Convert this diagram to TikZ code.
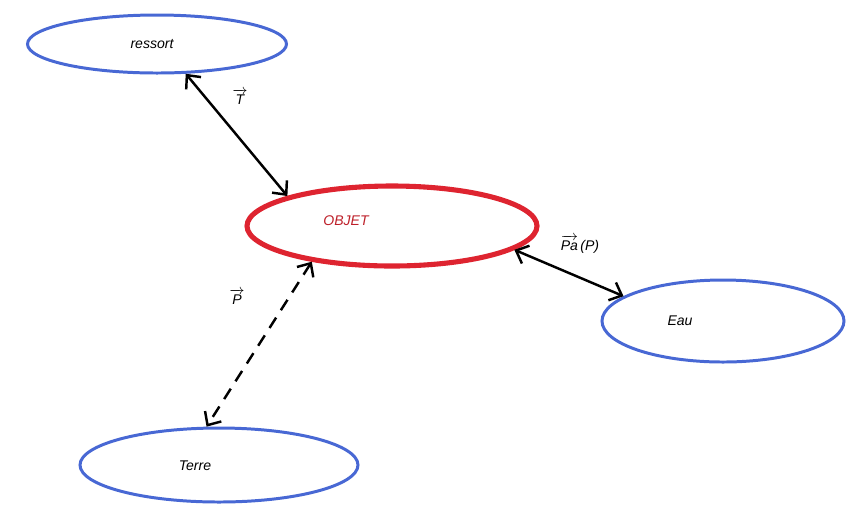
\documentclass[tikz,border=0pt]{standalone}
\usepackage{fontspec}
\setmainfont{Liberation Sans}
\usepackage{amsmath}
\usepackage{xcolor}
\usetikzlibrary{shapes.geometric, arrows.meta}

\definecolor{sysblue}{RGB}{72,104,212}
\definecolor{objred}{RGB}{222,36,48}

\begin{document}
\begin{tikzpicture}[
    x=0.02cm, y=-0.02cm,
    sys/.style={ellipse, draw=sysblue, line width=1.7pt, inner sep=0pt},
    obj/.style={ellipse, draw=objred, line width=2.9pt, inner sep=0pt},
    lbl/.style={font=\footnotesize\itshape},
    force/.style={{Straight Barb[length=6pt,width=11pt]}-{Straight Barb[length=6pt,width=11pt]}, line width=1.4pt},
    broken/.style={force, dash pattern=on 7pt off 5pt}
]
\useasboundingbox (0,0) rectangle (856,512);

\node[sys, minimum width=259*0.02cm, minimum height=58*0.02cm] (ressort) at (157,44) {};
\node[obj, minimum width=290*0.02cm, minimum height=80*0.02cm] (objet) at (392,226) {};
\node[sys, minimum width=242*0.02cm, minimum height=82*0.02cm] (eau) at (723,321) {};
\node[sys, minimum width=278*0.02cm, minimum height=74*0.02cm] (terre) at (219,465) {};

\node[lbl] (ressortlbl) at (152,44) {ressort};
\node[lbl, text=objred!85!black] (objetlbl) at (346,221) {OBJET};
\node[lbl] (eaulbl) at (680,321) {Eau};
\node[lbl] (terrelbl) at (195,466) {Terre};

\draw[force] (ressort.-46) -- (objet.164);
\draw[force] (objet.-11) -- (eau.166);
\draw[broken] (objet.-156) -- (terre.108);

\node[lbl] (tension) at (240,97) {$\overrightarrow{\textit{T}}$};
\node[lbl] (poids) at (237,297) {$\overrightarrow{\textit{P}}$};
\node[lbl] (poussee) at (580,244) {$\overrightarrow{\textit{Pa}}$\,(P)};
\end{tikzpicture}
\end{document}
